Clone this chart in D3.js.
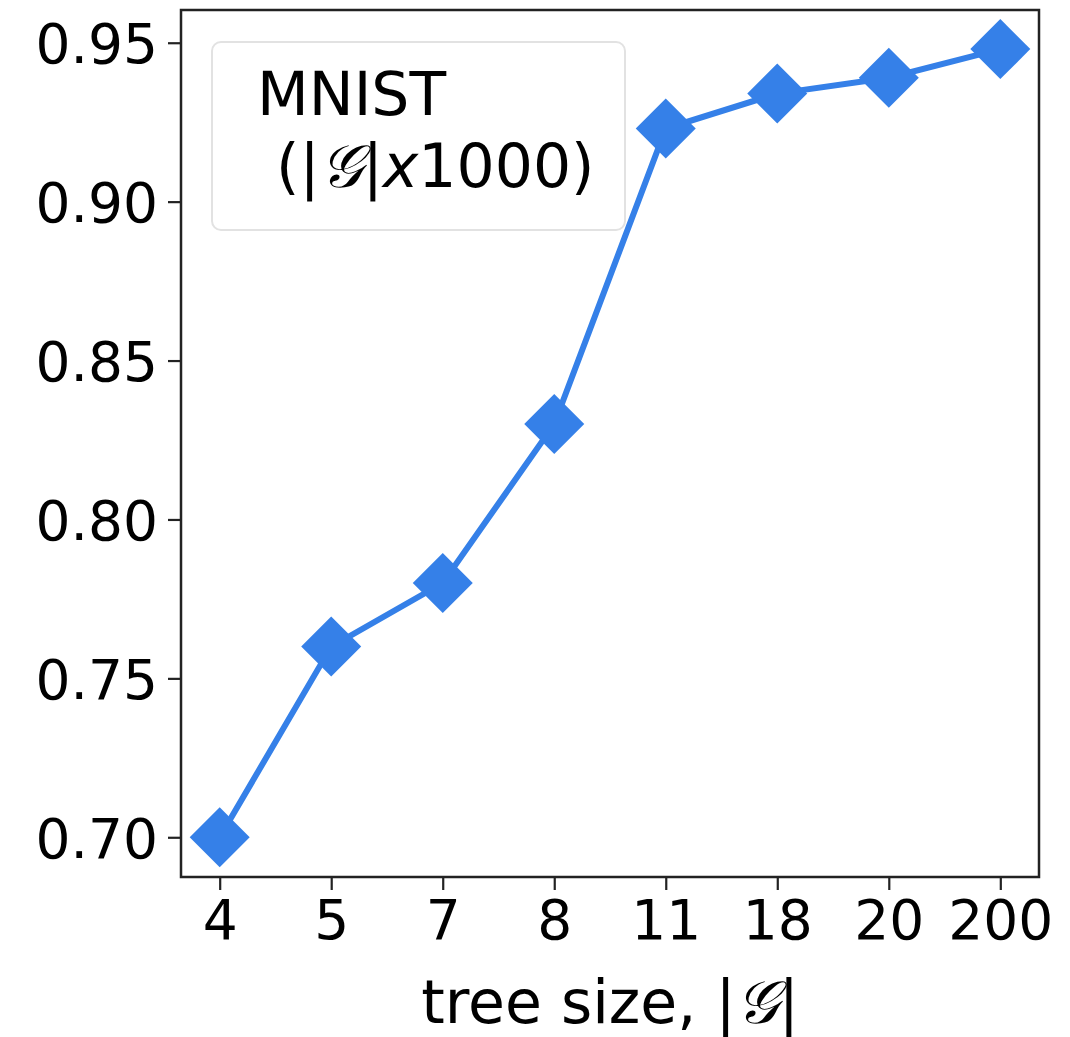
<!DOCTYPE html>
<html>
<head>
<meta charset="utf-8">
<script src="https://d3js.org/d3.v7.min.js"></script>
<style>
  body { margin: 0; background: #fff; }
  text { font-family: "DejaVu Sans", sans-serif; fill: #000; }
</style>
</head>
<body>
<div class="wrapper"></div>
<script>
// data
var sizes = ["4", "5", "7", "8", "11", "18", "20", "200"];
var accuracy = [0.700, 0.760, 0.780, 0.830, 0.923, 0.934, 0.939, 0.948];
var yTicks = [0.70, 0.75, 0.80, 0.85, 0.90, 0.95];

var W = 1070, H = 1037;
var margin = {top: 10, right: 31, bottom: 160, left: 181},
  width = W - margin.left - margin.right,
  height = H - margin.top - margin.bottom;

var blue = "#3580e8";

var svg = d3.select(".wrapper")
  .append("svg")
  .attr("width", W)
  .attr("height", H)
  .append("g")
  .attr("transform", "translate(" + margin.left + "," + margin.top + ")");

var x = d3.scalePoint()
  .domain(sizes)
  .range([0, width])
  .padding(0.347);

var y = d3.scaleLinear()
  .domain([0.6875, 0.9603])
  .range([height, 0]);

// axes
var xAxis = svg.append("g")
  .attr("transform", "translate(0," + height + ")")
  .call(d3.axisBottom(x).tickSize(13).tickPadding(10));
var yAxis = svg.append("g")
  .call(d3.axisLeft(y).tickValues(yTicks).tickFormat(d3.format(".2f")).tickSize(13).tickPadding(10));

[xAxis, yAxis].forEach(function(a) {
  a.select(".domain").remove();
  a.selectAll("line").attr("stroke", "#222").attr("stroke-width", 2.2);
  a.selectAll("text").style("font-size", "55px").attr("fill", "#000")
    .style("font-family", "'DejaVu Sans', sans-serif");
});
xAxis.selectAll("text").attr("dy", "0.71em");
yAxis.selectAll("text").attr("dy", "0.36em");

// frame
svg.append("rect")
  .attr("width", width)
  .attr("height", height)
  .attr("fill", "none")
  .attr("stroke", "#222")
  .attr("stroke-width", 2.5);

// line
var rows = sizes.map(function(s, i) { return {s: s, v: accuracy[i]}; });
svg.append("path")
  .datum(rows)
  .attr("fill", "none")
  .attr("stroke", blue)
  .attr("stroke-width", 6)
  .attr("d", d3.line().x(function(d) { return x(d.s); }).y(function(d) { return y(d.v); }));

// diamond markers
var r = 30;
svg.selectAll("myMarker")
  .data(rows)
  .enter()
  .append("path")
  .attr("fill", blue)
  .attr("d", function(d) {
    var cx = x(d.s), cy = y(d.v);
    return "M" + cx + "," + (cy - r) + "L" + (cx + r) + "," + cy +
      "L" + cx + "," + (cy + r) + "L" + (cx - r) + "," + cy + "Z";
  });

// legend box
var legend = svg.append("g");
legend.append("rect")
  .attr("x", 31).attr("y", 32)
  .attr("width", 413).attr("height", 188)
  .attr("rx", 9)
  .attr("fill", "#fff").attr("fill-opacity", 0.8)
  .attr("stroke", "#e2e2e2").attr("stroke-width", 2);
legend.append("text")
  .attr("x", 76).attr("y", 105)
  .style("font-size", "60px")
  .text("MNIST");
var l2 = legend.append("text")
  .attr("x", 95).attr("y", 177)
  .style("font-size", "60px");
l2.append("tspan").text("(|");
l2.append("tspan").style("font-family", "'DejaVu Serif', serif").style("font-style", "italic").text("𝒢");
l2.append("tspan").text("|");
l2.append("tspan").style("font-style", "italic").text("x");
l2.append("tspan").text("1000)");

// x axis title
var xt = svg.append("text")
  .attr("x", width / 2)
  .attr("y", height + 146)
  .attr("text-anchor", "middle")
  .style("font-size", "60px");
xt.append("tspan").text("tree size, |");
xt.append("tspan").style("font-family", "'DejaVu Serif', serif").style("font-style", "italic").text("𝒢");
xt.append("tspan").text("|");
</script>
</body>
</html>
